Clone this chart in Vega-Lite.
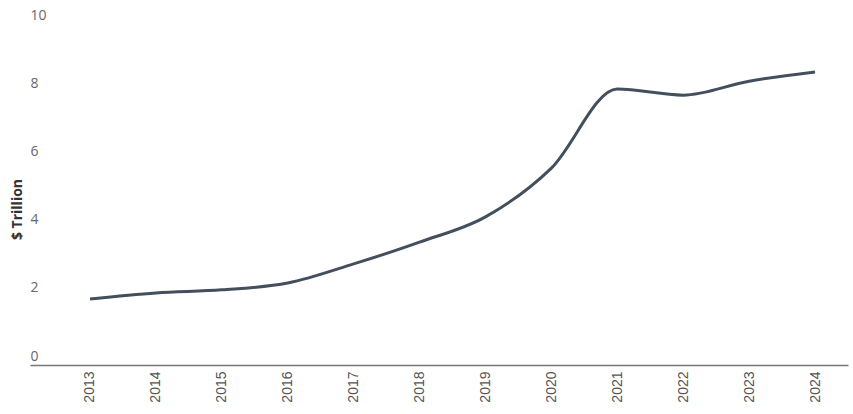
{
  "$schema": "https://vega.github.io/schema/vega-lite/v6.json",
  "width": 818,
  "height": 341,
  "autosize": "none",
  "padding": {"left": 30, "top": 15, "right": 5, "bottom": 58},
  "background": "white",
  "data": {
    "values": [
      {"year": 2013, "value": 1.67},
      {"year": 2014, "value": 1.85},
      {"year": 2015, "value": 1.94},
      {"year": 2016, "value": 2.14},
      {"year": 2017, "value": 2.70},
      {"year": 2018, "value": 3.34},
      {"year": 2019, "value": 4.08},
      {"year": 2020, "value": 5.51},
      {"year": 2021, "value": 7.83},
      {"year": 2022, "value": 7.65},
      {"year": 2023, "value": 8.06},
      {"year": 2024, "value": 8.33}
    ]
  },
  "mark": {"type": "line", "interpolate": "monotone", "color": "#434f5c", "strokeWidth": 3},
  "encoding": {
    "x": {
      "field": "year",
      "type": "quantitative",
      "scale": {"domain": [2012.09, 2024.5], "nice": false, "zero": false},
      "axis": {
        "values": [2013, 2014, 2015, 2016, 2017, 2018, 2019, 2020, 2021, 2022, 2023, 2024],
        "format": "d",
        "labelAngle": -90,
        "labelAlign": "right",
        "labelBaseline": "middle",
        "labelFont": "Liberation Sans",
        "labelFontSize": 14,
        "labelColor": "#555555",
        "labelPadding": 6,
        "ticks": false,
        "grid": false,
        "domainColor": "#777777",
        "domainWidth": 1.5,
        "offset": 9,
        "title": null
      }
    },
    "y": {
      "field": "value",
      "type": "quantitative",
      "scale": {"domain": [0, 10], "nice": false},
      "axis": {
        "values": [0, 2, 4, 6, 8, 10],
        "labelAlign": "left",
        "labelBaseline": "middle",
        "labelFont": "Open Sans",
        "labelFontSize": 14,
        "labelColor": "#666666",
        "labelPadding": 0,
        "ticks": false,
        "domain": false,
        "grid": false,
        "title": "$ Trillion",
        "titleFont": "Open Sans",
        "titleFontSize": 14,
        "titleFontWeight": "bold",
        "titleColor": "#333333",
        "titleX": -13,
        "titleY": 194,
        "titleAngle": -90,
        "titleAlign": "center",
        "titleBaseline": "middle"
      }
    }
  },
  "config": {"view": {"stroke": null}}
}
